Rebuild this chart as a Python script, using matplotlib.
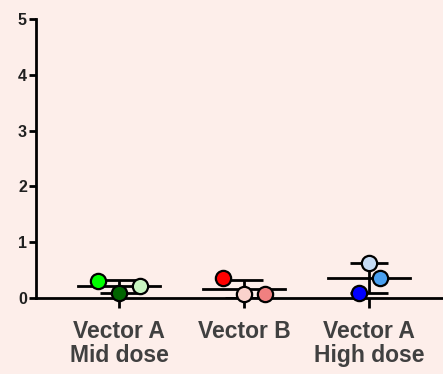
import matplotlib.pyplot as plt
import numpy as np

# group labels and per-animal values
groups = ["Vector A\nMid dose", "Vector B", "Vector A\nHigh dose"]
mid_a = [0.31, 0.09, 0.22]
vec_b = [0.35, 0.07, 0.07]
high_a = [0.63, 0.36, 0.09]
# horizontal scatter of the points inside each group
jitter = [[-0.17, 0.0, 0.17], [-0.17, 0.0, 0.17], [0.0, 0.09, -0.08]]
colors = [["#00ff00", "#006400", "#c8f5c0"],
          ["#ff0000", "#fad2cc", "#f08080"],
          ["#c6dcf5", "#4aa0f0", "#0000ff"]]

bg = "#fdeeea"
fig = plt.figure(figsize=(4.43, 3.74), dpi=100, facecolor=bg)
ax = fig.add_axes([36 / 443, 1 - 298 / 374, 1 - 36 / 443, 279 / 374])
ax.set_facecolor(bg)

for i, vals in enumerate([mid_a, vec_b, high_a]):
    vals = np.array(vals)
    m = vals.mean()
    sd = vals.std(ddof=1)
    # mean line
    ax.plot([i - 0.33, i + 0.33], [m, m], color="black", lw=2, zorder=2, clip_on=False)
    # SD whiskers
    ax.errorbar(i, m, yerr=sd, fmt="none", ecolor="black", elinewidth=2,
                capsize=14, capthick=2, zorder=2)
    for x, v, c in zip(jitter[i], vals, colors[i]):
        ax.plot(i + x, v, "o", ms=11, mfc=c, mec="black", mew=1.6, zorder=3, clip_on=False)

ax.set_xlim(-0.665, 2.59)
ax.set_ylim(0, 5)
ax.set_yticks([0, 1, 2, 3, 4, 5])
ax.set_xticks(range(len(groups)))
ax.set_xticklabels(groups, fontsize=16.5, fontweight="bold", color="#404040",
                   family="Liberation Sans", linespacing=1.05)
for t in ax.get_yticklabels():
    t.set_fontsize(11.5)
    t.set_fontweight("bold")
    t.set_family("Liberation Sans")
    t.set_color("#202020")
ax.tick_params(axis="y", length=5, width=2, pad=1.5)
ax.tick_params(axis="x", length=7, width=2, pad=9)
for s in ["top", "right"]:
    ax.spines[s].set_visible(False)
for s in ["left", "bottom"]:
    ax.spines[s].set_linewidth(2)

fig.savefig("out.png", dpi=100, facecolor=bg)
